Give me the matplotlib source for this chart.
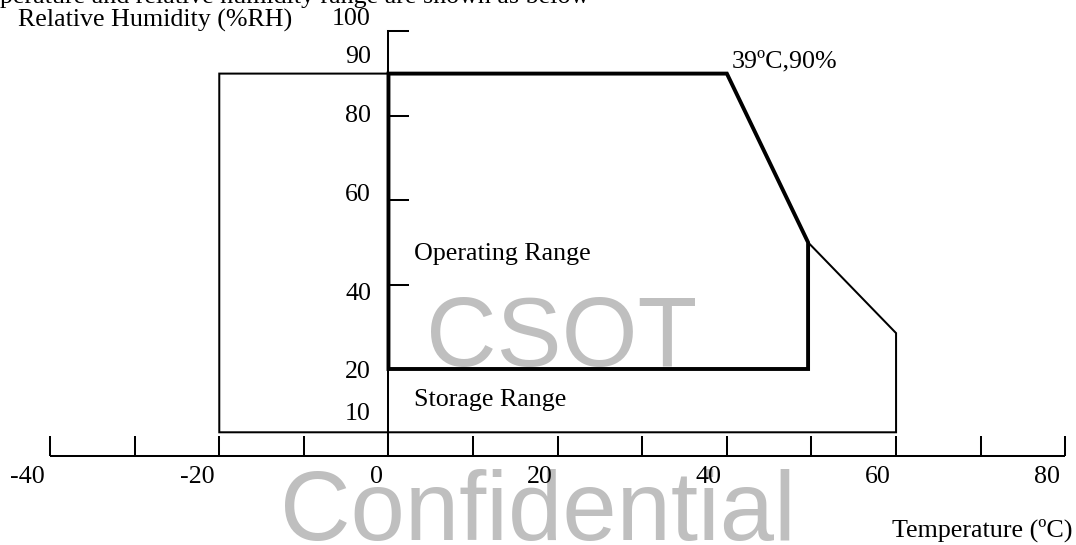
import matplotlib
matplotlib.use("Agg")
import matplotlib.pyplot as plt
from matplotlib.patches import Polygon
import numpy as np

# ---------------- data ----------------
operating_temp = [0, 40, 49.6, 49.6, 0]
operating_rh = [90, 90, 50, 20, 20]
storage_temp = [-20, 40, 49.6, 60, 60, -20]
storage_rh = [90, 90, 50, 28.5, 5, 5]
x_ticks = [-40, -30, -20, -10, 0, 10, 20, 30, 40, 50, 60, 70, 80]
x_label_values = [-40, -20, 0, 20, 40, 60, 80]
x_label_texts = ["-40", "-20", "0", "20", "40", "60", "80"]
y_ticks = [100, 80, 60, 40]
y_label_texts = ["100", "90", "80", "60", "40", "20", "10"]
y_axis_top = 100
corner_label = "39ºC,90%"
operating_label = "Operating Range"
storage_label = "Storage Range"
y_title = "Relative Humidity (%RH)"
x_title = "Temperature (ºC)"
top_text = "perature and relative humidity range are shown as below"
watermark_1 = "CSOT"
watermark_2 = "Confidential"

# ---------------- layout ----------------
W, H = 1076, 545
fig = plt.figure(figsize=(W / 100, H / 100), dpi=100)
ax = fig.add_axes([0, 0, 1, 1])
ax.set_xlim(-45.92, 81.27)
ax.set_ylim(-21.71, 107.44)
ax.axis("off")

SERIF = ["Liberation Serif", "DejaVu Serif"]
SANS = ["Liberation Sans", "DejaVu Sans"]
FS = 18.7
THIN = 1.45
THICK = 2.8
AXIS_Y = -0.6          # x-axis line height (in RH units)
XTICK_LEN = 4.7        # RH units (~20 px)
YTICK_LEN = 2.36       # degC units (~20 px)
GREY = "#bfbfbf"


def ftext(xp, yp, s, **kw):
    """place text at pixel position (from top-left)"""
    fig.text(xp / W, 1 - yp / H, s, **kw)


def px_x(t):
    return (t - ax.get_xlim()[0]) / (ax.get_xlim()[1] - ax.get_xlim()[0]) * W


# watermarks
ftext(562, 366, watermark_1, family=SANS, fontsize=70.3, color=GREY,
      ha="center", va="baseline", zorder=0)
ftext(538, 540, watermark_2, family=SANS, fontsize=70.3, color=GREY,
      ha="center", va="baseline", zorder=0)

# storage range (thin)
ax.add_patch(Polygon(np.column_stack([storage_temp, storage_rh]), closed=True,
                     fill=False, lw=THIN, ec="black", joinstyle="miter", zorder=2))
# y axis
ax.plot([0, 0], [AXIS_Y, y_axis_top], color="black", lw=THIN, zorder=2)
for yt in y_ticks:
    ax.plot([0, YTICK_LEN], [yt, yt], color="black", lw=THIN, zorder=2)
# x axis
ax.plot([x_ticks[0], x_ticks[-1]], [AXIS_Y, AXIS_Y], color="black", lw=THIN,
        solid_capstyle="butt", zorder=2)
for xt in x_ticks:
    ax.plot([xt, xt], [AXIS_Y, AXIS_Y + XTICK_LEN], color="black", lw=THIN,
            solid_capstyle="butt", zorder=2)
# operating range (thick)
ax.add_patch(Polygon(np.column_stack([operating_temp, operating_rh]), closed=True,
                     fill=False, lw=THICK, ec="black", joinstyle="miter", zorder=3))

# text
tk = dict(family=SERIF, fontsize=FS, color="black", zorder=4)
ftext(0, 3, top_text, ha="left", va="baseline", **tk)
ftext(17.5, 27, y_title, ha="left", va="baseline", **tk)
y_label_baseline_px = [25, 63, 122, 201, 300, 378, 420]
for s, yb in zip(y_label_texts, y_label_baseline_px):
    ftext(371, yb, s, ha="right", va="baseline", **tk)
for v, s in zip(x_label_values, x_label_texts):
    ftext(px_x(v) - 5, 483, s, ha="right", va="baseline", **tk)
ftext(1073, 537, x_title, ha="right", va="baseline", **tk)
ftext(732, 67, corner_label, ha="left", va="baseline", **tk)
ftext(414, 260, operating_label, ha="left", va="baseline", **tk)
ftext(414, 406, storage_label, ha="left", va="baseline", **tk)

fig.savefig("out.png", dpi=100, facecolor="white")
